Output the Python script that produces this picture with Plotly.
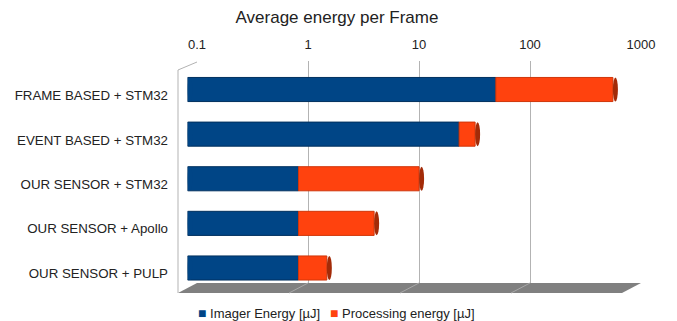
import plotly.graph_objects as go

# ---------------- data ----------------
categories = ["FRAME BASED + STM32", "EVENT BASED + STM32", "OUR SENSOR + STM32",
              "OUR SENSOR + Apollo", "OUR SENSOR + PULP"]
imager_energy = [60, 28, 1.0, 1.0, 1.0]          # µJ
processing_energy = [620, 11, 11.2, 3.8, 0.8]    # µJ
tick_vals = [0.1, 1, 10, 100, 1000]
tick_text = ["0.1", "1", "10", "100", "1000"]
series_names = ["Imager Energy [µJ]", "Processing energy [µJ]"]
title_text = "Average energy per Frame"

# ---------------- styling ----------------
W, H = 677, 321
BLUE = "#004586"
ORANGE = "#ff420e"
ORANGE_CAP = "#a32b08"
GRID = "#b3b3b3"
FONT = "Liberation Sans, Arial, sans-serif"
AXIS_MIN = tick_vals[0]

def px(x):
    return x / W

def py(y):
    return 1 - y / H

fig = go.Figure()

# back wall (gridlines + top labels) : subplot x / y
fig.add_trace(go.Scatter(x=[None], y=[None], xaxis="x", yaxis="y",
                         showlegend=False, hoverinfo="skip"))

# bars : subplot x2 / y2
base_blue = [AXIS_MIN] * len(categories)
fig.add_trace(go.Bar(
    y=categories, x=[v - AXIS_MIN for v in imager_energy], base=base_blue,
    orientation="h", name=series_names[0], xaxis="x2", yaxis="y2",
    marker=dict(color=BLUE, line=dict(color="#00305e", width=1)),
    width=0.54, showlegend=False))
fig.add_trace(go.Bar(
    y=categories, x=processing_energy, base=imager_energy,
    orientation="h", name=series_names[1], xaxis="x2", yaxis="y2",
    marker=dict(color=ORANGE, line=dict(color="#d0360a", width=1)),
    width=0.54, showlegend=False))

# front category labels : subplot x3 / y3
fig.add_trace(go.Scatter(x=[None], y=[None], xaxis="x3", yaxis="y3",
                         showlegend=False, hoverinfo="skip"))

shapes = []
# floor
floor_pts = [(197, 283), (641, 283), (622, 293), (178, 293)]
path = "M " + " L ".join(f"{px(a)},{py(b)}" for a, b in floor_pts) + " Z"
shapes.append(dict(type="path", xref="paper", yref="paper", path=path,
                   fillcolor="#808080", line=dict(width=0), layer="below"))
# faint floor grid lines continuing the back-wall gridlines
decade_px = (641 - 197) / 4
for k in range(1, 4):
    bx = 197 + k * decade_px
    shapes.append(dict(type="line", xref="paper", yref="paper",
                       x0=px(bx), y0=py(283), x1=px(bx - 19), y1=py(293),
                       line=dict(color="#a8a8a8", width=1), layer="below"))
# left wall outline
for (a, b, c, d) in [(178, 293, 178, 70), (178, 70, 197, 62)]:
    shapes.append(dict(type="line", xref="paper", yref="paper",
                       x0=px(a), y0=py(b), x1=px(c), y1=py(d),
                       line=dict(color=GRID, width=1), layer="below"))

# cylinder end caps (ellipses) derived from data values
for i, cat in enumerate(categories):
    total = imager_energy[i] + processing_energy[i]
    shapes.append(dict(type="circle", xref="x2", yref="y2",
                       xsizemode="pixel", ysizemode="pixel",
                       xanchor=AXIS_MIN, yanchor=i,
                       x0=-5, x1=5, y0=-12, y1=12,
                       fillcolor=BLUE, line=dict(width=0), layer="above"))
    shapes.append(dict(type="circle", xref="x2", yref="y2",
                       xsizemode="pixel", ysizemode="pixel",
                       xanchor=total, yanchor=i,
                       x0=-5, x1=5, y0=-12, y1=12,
                       fillcolor=ORANGE_CAP, line=dict(width=0), layer="above"))

annotations = [
    dict(text=f"<span style='color:{BLUE};font-size:14px'>■</span> {series_names[0]}",
         x=px(196), y=py(313), xref="paper", yref="paper",
         xanchor="left", yanchor="middle", showarrow=False,
         font=dict(family=FONT, size=13, color="#222")),
    dict(text=f"<span style='color:{ORANGE};font-size:14px'>■</span> {series_names[1]}",
         x=px(328), y=py(313), xref="paper", yref="paper",
         xanchor="left", yanchor="middle", showarrow=False,
         font=dict(family=FONT, size=13, color="#222")),
]

fig.update_layout(
    width=W, height=H, autosize=False,
    margin=dict(l=0, r=0, t=0, b=0, pad=0),
    paper_bgcolor="white", plot_bgcolor="rgba(0,0,0,0)",
    barmode="overlay",
    title=dict(text=title_text, x=px(337), y=py(17), xanchor="center",
               yanchor="middle", automargin=False,
               font=dict(family=FONT, size=17, color="#222")),
    font=dict(family=FONT, size=13, color="#222"),
    xaxis=dict(type="log", range=[-1, 3], domain=[px(197), px(641)],
               side="top", anchor="y", showgrid=True, gridcolor=GRID,
               gridwidth=1, zeroline=False, showline=False, automargin=False,
               tickmode="array", tickvals=tick_vals, ticktext=tick_text,
               ticks="", ticklabelstandoff=8,
               tickfont=dict(family=FONT, size=13, color="#222")),
    yaxis=dict(range=[0, 1], domain=[py(283), py(61)], visible=False,
               anchor="x", automargin=False),
    xaxis2=dict(type="log", range=[-1, 3], domain=[px(187.5), px(631.5)],
                anchor="y2", visible=False, automargin=False),
    yaxis2=dict(type="category", categoryorder="array",
                categoryarray=categories, range=[4.5, -0.5],
                domain=[py(290.3), py(67.2)], anchor="x2", visible=False,
                automargin=False),
    xaxis3=dict(range=[0, 1], domain=[px(178), px(640)], anchor="y3",
                visible=False, automargin=False),
    yaxis3=dict(range=[4.5, -0.5], domain=[py(295), py(73.5)],
                anchor="free", position=px(178), side="left",
                tickmode="array", tickvals=list(range(len(categories))),
                ticktext=categories, ticks="", showgrid=False,
                zeroline=False, showline=False, ticklabelstandoff=10,
                automargin=False,
                tickfont=dict(family=FONT, size=13.3, color="#222")),
    shapes=shapes,
    annotations=annotations,
    showlegend=False,
)

fig.write_html("out.html")
